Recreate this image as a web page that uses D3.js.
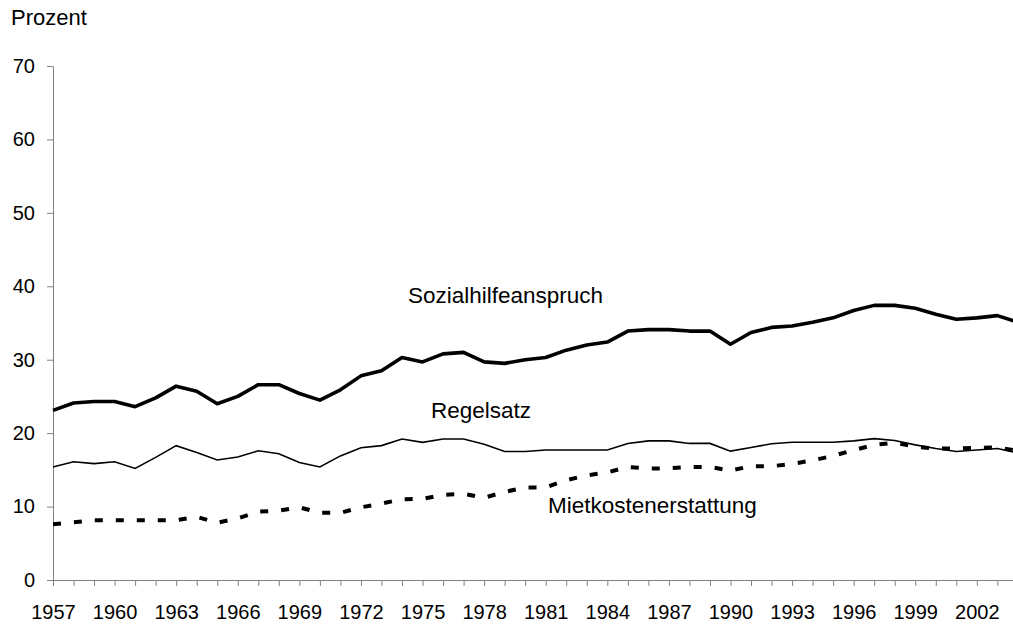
<!doctype html>
<html>
<head>
    <style>
        body { margin: 0; background: #fff; }
        svg { display: block; font-family: "Liberation Sans", Arial, sans-serif; }
        .axis path, .axis line { stroke: #808080; stroke-width: 1; }
        .axis text { fill: #000; font-size: 20px; font-family: "Liberation Sans", Arial, sans-serif; }
        .label { font-size: 22.5px; fill: #000; }
    </style>
    <script src="https://d3js.org/d3.v7.min.js"></script>
</head>
<body>
    <svg width="1013" height="624"></svg>
    <script>
        var years = d3.range(1957, 2005); // 1957 .. 2004
        var yTicks = [0, 10, 20, 30, 40, 50, 60, 70];

        var sozialhilfe = [23.1, 24.1, 24.3, 24.3, 23.6, 24.8, 26.4, 25.7, 24.0, 25.0,
            26.6, 26.6, 25.4, 24.5, 25.9, 27.8, 28.5, 30.3, 29.7, 30.8,
            31.0, 29.7, 29.5, 30.0, 30.3, 31.3, 32.0, 32.4, 33.9, 34.1,
            34.1, 33.9, 33.9, 32.1, 33.7, 34.4, 34.6, 35.1, 35.7, 36.7,
            37.4, 37.4, 37.0, 36.2, 35.5, 35.7, 36.0, 35.1];

        var regelsatz = [15.4, 16.1, 15.85, 16.1, 15.2, 16.7, 18.3, 17.35, 16.35, 16.75,
            17.6, 17.2, 16.0, 15.4, 16.9, 18.0, 18.3, 19.2, 18.75, 19.2,
            19.2, 18.5, 17.5, 17.5, 17.7, 17.7, 17.7, 17.7, 18.6, 18.95,
            18.95, 18.6, 18.6, 17.55, 18.05, 18.55, 18.75, 18.75, 18.75, 18.95,
            19.25, 19.0, 18.4, 17.9, 17.5, 17.7, 17.9, 17.3];

        var mietkosten = [7.6, 7.85, 8.15, 8.15, 8.15, 8.15, 8.15, 8.6, 7.8, 8.4,
            9.3, 9.45, 9.9, 9.15, 9.15, 9.9, 10.4, 11.0, 11.05, 11.6,
            11.75, 11.2, 12.0, 12.6, 12.6, 13.6, 14.25, 14.65, 15.4, 15.2,
            15.2, 15.4, 15.4, 14.9, 15.5, 15.5, 15.8, 16.3, 16.9, 17.7,
            18.4, 18.7, 18.15, 17.9, 17.9, 18.0, 18.05, 17.6];

        var svg = d3.select("svg");

        var x = d3.scaleLinear()
            .domain([1957, 2004])
            .range([53, 1017.9]);

        var y = d3.scaleLinear()
            .domain([0, 70])
            .range([580, 66]);

        // x axis, a tick per year, label every third year
        svg.append("g")
            .attr("class", "axis")
            .attr("transform", "translate(0,580)")
            .call(d3.axisBottom(x)
                .tickValues(years)
                .tickSize(6)
                .tickSizeOuter(0)
                .tickPadding(19)
                .tickFormat(function (d) { return (d - 1957) % 3 === 0 ? d : ""; }));

        // y axis
        svg.append("g")
            .attr("class", "axis")
            .attr("transform", "translate(53,0)")
            .call(d3.axisLeft(y)
                .tickValues(yTicks)
                .tickSize(6)
                .tickSizeOuter(0)
                .tickPadding(12));

        var line = d3.line()
            .x(function (d, i) { return x(years[i]); })
            .y(function (d) { return y(d); });

        svg.append("path")
            .datum(regelsatz)
            .attr("fill", "none")
            .attr("stroke", "#000")
            .attr("stroke-width", 1.6)
            .attr("d", line);

        svg.append("path")
            .datum(mietkosten)
            .attr("fill", "none")
            .attr("stroke", "#000")
            .attr("stroke-width", 4)
            .attr("stroke-dasharray", "8,13")
            .attr("d", line);

        svg.append("path")
            .datum(sozialhilfe)
            .attr("fill", "none")
            .attr("stroke", "#000")
            .attr("stroke-width", 3.6)
            .attr("stroke-linejoin", "round")
            .attr("d", line);

        // labels
        svg.append("text").attr("class", "label").style("font-size", "22px").attr("x", 11).attr("y", 25).text("Prozent");
        svg.append("text").attr("class", "label").attr("x", 408).attr("y", 303).text("Sozialhilfeanspruch");
        svg.append("text").attr("class", "label").attr("x", 431).attr("y", 418).text("Regelsatz");
        svg.append("text").attr("class", "label").attr("x", 548).attr("y", 513).text("Mietkostenerstattung");
    </script>
</body>
</html>
